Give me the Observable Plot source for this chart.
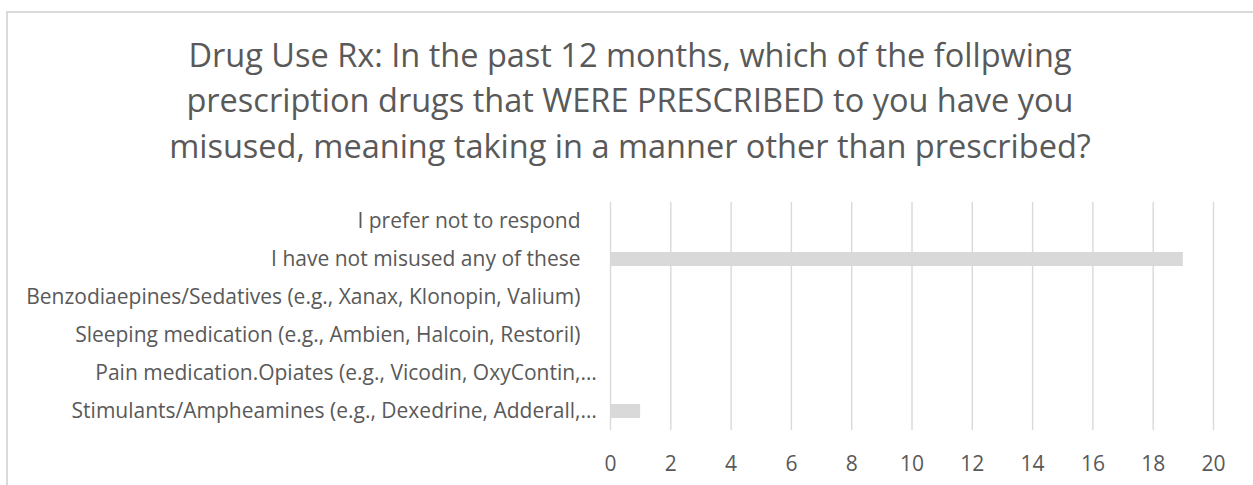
<!DOCTYPE html>
<html>
<head>
<meta charset="utf-8">
<script src="https://cdn.jsdelivr.net/npm/d3@7"></script>
<script src="https://cdn.jsdelivr.net/npm/@observablehq/plot@0.6"></script>
<style>
  html, body { margin: 0; padding: 0; background: #fff; }
  body { width: 1253px; height: 485px; position: relative; overflow: hidden; font-family: "Open Sans", sans-serif; }
  #frame { position: absolute; left: 6px; top: 11px; width: 1300px; height: 520px;
           border-top: 2px solid #dadada; border-left: 2px solid #dadada; box-sizing: border-box; }
  #title { position: absolute; left: 0; top: 31.5px; width: 1260px; text-align: center;
           font-size: 32.5px; line-height: 45.5px; color: #595959; white-space: nowrap; }
  #chart { position: absolute; left: 0; top: 190px; }
</style>
</head>
<body>
<div id="frame"></div>
<div id="title"></div>
<div id="chart"></div>
<script>
// Survey question, split into the three lines it is shown on
const titleLines = [
  "Drug Use Rx: In the past 12 months, which of the follpwing",
  "prescription drugs that WERE PRESCRIBED to you have you",
  "misused, meaning taking in a manner other than prescribed?"
];

// Answer options, top to bottom
const categories = [
  "I prefer not to respond",
  "I have not misused any of these",
  "Benzodiaepines/Sedatives (e.g., Xanax, Klonopin, Valium)",
  "Sleeping medication (e.g., Ambien, Halcoin, Restoril)",
  "Pain medication.Opiates (e.g., Vicodin, OxyContin,…",
  "Stimulants/Ampheamines (e.g., Dexedrine, Adderall,…"
];

// Number of respondents for each option
const counts = [0, 19, 0, 0, 0, 1];

// Value axis ticks
const xTicks = [0, 2, 4, 6, 8, 10, 12, 14, 16, 18, 20];

document.getElementById("title").innerHTML = titleLines.join("<br>");

const rows = categories.map((c, i) => ({category: c, count: counts[i]}));
const truncated = rows.filter(d => d.category.endsWith("…"));

const textColor = "#595959";
const labelSize = 21;

const chart = Plot.plot({
  width: 1253,
  height: 295,
  marginLeft: 610,
  marginRight: 40,
  marginTop: 12,
  marginBottom: 55,
  style: {fontFamily: "'Open Sans', sans-serif", fontSize: `${labelSize}px`, color: textColor, background: "transparent"},
  x: {domain: [0, 20], ticks: xTicks},
  y: {domain: categories, paddingInner: 0.63, paddingOuter: 0.315},
  marks: [
    Plot.gridX(xTicks, {stroke: "#d9d9d9", strokeOpacity: 1, strokeWidth: 1.4}),
    Plot.barX(rows, {x: "count", y: "category", fill: "#d9d9d9"}),
    Plot.axisX({ticks: xTicks, tickSize: 0, tickPadding: 26, fontSize: labelSize, fill: textColor, label: null}),
    Plot.axisY({tickSize: 0, tickPadding: 30, fontSize: labelSize, fill: textColor, label: null,
                tickFormat: d => d.replace(/…$/, "")}),
    // the ellipsis of cut-off labels hangs past the label column
    Plot.text(truncated, {y: "category", text: () => "…", frameAnchor: "left", textAnchor: "start",
                          dx: -30, fontSize: labelSize, fill: textColor})
  ]
});

document.getElementById("chart").appendChild(chart);
</script>
</body>
</html>
